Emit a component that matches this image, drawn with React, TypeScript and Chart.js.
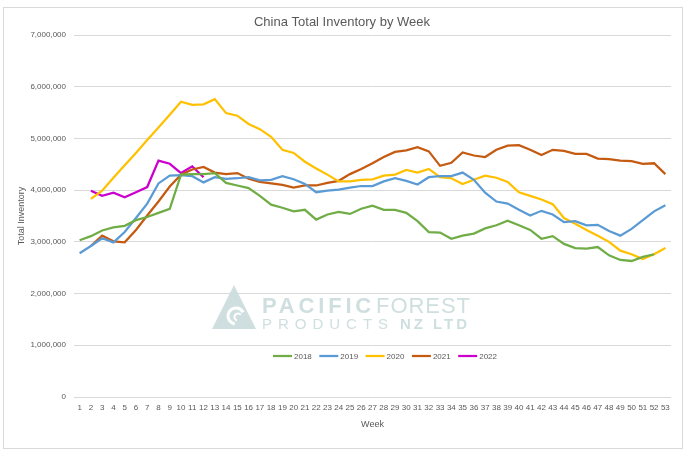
import React, { useEffect, useRef } from "react";
import { Chart, registerables } from "chart.js";

Chart.register(...registerables);

const weeks = [
  "1", "2", "3", "4", "5", "6", "7", "8", "9", "10",
  "11", "12", "13", "14", "15", "16", "17", "18", "19", "20",
  "21", "22", "23", "24", "25", "26", "27", "28", "29", "30",
  "31", "32", "33", "34", "35", "36", "37", "38", "39", "40",
  "41", "42", "43", "44", "45", "46", "47", "48", "49", "50",
  "51", "52", "53",
];

const seriesNames = ["2018", "2019", "2020", "2021", "2022"];

const inv2018 = [
  3030000, 3110000, 3220000, 3280000, 3310000, 3420000, 3480000, 3560000, 3640000, 4300000,
  4310000, 4310000, 4330000, 4140000, 4090000, 4040000, 3890000, 3720000, 3660000, 3590000,
  3620000, 3430000, 3530000, 3580000, 3540000, 3640000, 3700000, 3620000, 3620000, 3560000,
  3400000, 3190000, 3180000, 3060000, 3120000, 3160000, 3260000, 3320000, 3410000, 3320000,
  3230000, 3060000, 3110000, 2960000, 2880000, 2870000, 2900000, 2740000, 2650000, 2630000,
  2710000, 2760000, null,
];

const inv2019 = [
  2780000, 2920000, 3070000, 2990000, 3190000, 3460000, 3740000, 4130000, 4280000, 4290000,
  4270000, 4150000, 4250000, 4220000, 4230000, 4250000, 4190000, 4200000, 4270000, 4210000,
  4120000, 3960000, 3990000, 4010000, 4050000, 4080000, 4080000, 4170000, 4230000, 4180000,
  4110000, 4250000, 4270000, 4270000, 4340000, 4200000, 3950000, 3780000, 3740000, 3620000,
  3510000, 3600000, 3530000, 3380000, 3400000, 3320000, 3330000, 3210000, 3120000, 3250000,
  3420000, 3590000, 3710000,
];

const inv2020 = [
  null, 3830000, 3990000, 4240000, 4480000, 4720000, 4970000, 5210000, 5460000, 5710000,
  5650000, 5660000, 5760000, 5490000, 5440000, 5280000, 5180000, 5030000, 4780000, 4720000,
  4550000, 4420000, 4300000, 4170000, 4170000, 4200000, 4210000, 4280000, 4300000, 4390000,
  4340000, 4410000, 4250000, 4230000, 4120000, 4200000, 4280000, 4240000, 4160000, 3960000,
  3890000, 3820000, 3730000, 3460000, 3350000, 3230000, 3120000, 3000000, 2830000, 2760000,
  2670000, 2760000, 2880000,
];

const inv2021 = [
  null, 2920000, 3120000, 3010000, 2990000, 3230000, 3510000, 3780000, 4070000, 4300000,
  4400000, 4450000, 4340000, 4310000, 4330000, 4220000, 4160000, 4130000, 4100000, 4050000,
  4090000, 4090000, 4140000, 4180000, 4310000, 4410000, 4520000, 4640000, 4740000, 4770000,
  4830000, 4750000, 4470000, 4530000, 4730000, 4670000, 4640000, 4780000, 4860000, 4870000,
  4780000, 4680000, 4780000, 4760000, 4700000, 4700000, 4610000, 4600000, 4570000, 4560000,
  4510000, 4520000, 4310000,
];

const inv2022 = [
  null, 3990000, 3890000, 3950000, 3860000, 3960000, 4060000, 4570000, 4510000, 4330000,
  4460000, 4250000, null, null, null, null, null, null, null, null,
  null, null, null, null, null, null, null, null, null, null,
  null, null, null, null, null, null, null, null, null, null,
  null, null, null, null, null, null, null, null, null, null,
  null, null, null,
];

const yMin = 0;
const yMax = 7000000;
const yStep = 1000000;

const chartTitle = "China Total Inventory by Week";
const yTitle = "Total Inventory";
const xTitle = "Week";

const lineColors = ["#70AD47", "#5B9BD5", "#FFC000", "#C55A11", "#CC00CC"];
const FONT = "'Liberation Sans', Arial, sans-serif";
const TEXT = "#595959";

export default function App() {
  const ref = useRef<HTMLCanvasElement | null>(null);

  useEffect(() => {
    const canvas = ref.current;
    if (!canvas) return;
    const allSeries = [inv2018, inv2019, inv2020, inv2021, inv2022];

    const framePlugin = {
      id: "frame",
      beforeDraw(chart: any) {
        const ctx = chart.ctx;
        ctx.save();
        ctx.fillStyle = "#ffffff";
        ctx.fillRect(0, 0, chart.width, chart.height);
        ctx.strokeStyle = "#d9d9d9";
        ctx.lineWidth = 1;
        ctx.strokeRect(3.5, 7.5, 679, 441);
        ctx.fillStyle = TEXT;
        ctx.font = `13px ${FONT}`;
        ctx.textAlign = "center";
        ctx.textBaseline = "middle";
        ctx.fillText(chartTitle, 342, 22);
        ctx.restore();
      },
    };

    const fitText = (ctx: any, text: string, x: number, y: number, width: number) => {
      ctx.letterSpacing = "0px";
      const w = ctx.measureText(text).width;
      const sp = (width - w) / text.length;
      ctx.letterSpacing = `${sp}px`;
      ctx.fillText(text, x, y);
      ctx.letterSpacing = "0px";
    };

    const watermarkPlugin = {
      id: "watermark",
      beforeDatasetsDraw(chart: any) {
        const ctx = chart.ctx;
        ctx.save();
        ctx.fillStyle = "#cfdfdf";
        ctx.beginPath();
        ctx.moveTo(234, 285);
        ctx.lineTo(256, 329);
        ctx.lineTo(212, 329);
        ctx.closePath();
        ctx.fill();
        ctx.strokeStyle = "#ffffff";
        ctx.lineWidth = 3;
        ctx.beginPath();
        ctx.arc(236, 316, 8, Math.PI * 0.55, Math.PI * 1.85);
        ctx.stroke();
        ctx.lineWidth = 2;
        ctx.beginPath();
        ctx.arc(238, 317, 3.5, Math.PI * 0.6, Math.PI * 1.8);
        ctx.stroke();
        ctx.textAlign = "left";
        ctx.textBaseline = "alphabetic";
        ctx.font = `bold 22px ${FONT}`;
        fitText(ctx, "PACIFIC", 262, 313, 113);
        ctx.font = `22px ${FONT}`;
        fitText(ctx, "FOREST", 376, 313, 95);
        ctx.font = `15px ${FONT}`;
        fitText(ctx, "PRODUCTS", 262, 329, 132);
        ctx.font = `bold 15px ${FONT}`;
        fitText(ctx, "NZ LTD", 400, 329, 70);
        ctx.restore();
      },
    };

    const legendPlugin = {
      id: "customLegend",
      afterDraw(chart: any) {
        const ctx = chart.ctx;
        const ds = chart.data.datasets;
        ctx.save();
        ctx.font = `8px ${FONT}`;
        ctx.textBaseline = "middle";
        ctx.textAlign = "left";
        const lineLen = 19;
        const gap1 = 2;
        const gap2 = 7.5;
        const widths = ds.map((d: any) => ctx.measureText(d.label).width);
        const total = widths.reduce((a: number, w: number) => a + lineLen + gap1 + w, 0) + gap2 * (ds.length - 1);
        let x = 385 - total / 2;
        const y = chart.chartArea.bottom - 41;
        ds.forEach((d: any, i: number) => {
          ctx.strokeStyle = d.borderColor;
          ctx.lineWidth = 2.25;
          ctx.beginPath();
          ctx.moveTo(x, y);
          ctx.lineTo(x + lineLen, y);
          ctx.stroke();
          ctx.fillStyle = TEXT;
          ctx.fillText(d.label, x + lineLen + gap1, y + 0.5);
          x += lineLen + gap1 + widths[i] + gap2;
        });
        ctx.restore();
      },
    };

    const chart = new Chart(canvas, {
      type: "line",
      data: {
        labels: weeks,
        datasets: seriesNames.map((name, i) => ({
          label: name,
          data: allSeries[i],
          borderColor: lineColors[i],
          backgroundColor: lineColors[i],
          borderWidth: 2.25,
          pointRadius: 0,
          tension: 0,
          fill: false,
        })),
      },
      options: {
        responsive: false,
        animation: false,
        devicePixelRatio: 1,
        layout: { padding: { top: 35, right: 18, left: 0, bottom: 0 } },
        plugins: {
          legend: { display: false },
          title: { display: false },
          tooltip: { enabled: false },
        },
        scales: {
          x: {
            type: "category",
            offset: true,
            grid: { display: false, drawTicks: false },
            border: { display: false },
            ticks: {
              autoSkip: false,
              maxRotation: 0,
              minRotation: 0,
              color: TEXT,
              font: { size: 8, family: FONT },
              padding: 6,
            },
            title: {
              display: true,
              text: xTitle,
              color: TEXT,
              font: { size: 9, family: FONT },
              padding: { top: 0, bottom: 21.6 },
            },
            afterFit(s: any) {
              s.height = 55;
            },
          },
          y: {
            min: yMin,
            max: yMax,
            grid: { color: "#d9d9d9", drawTicks: false, lineWidth: 1 },
            border: { display: false },
            ticks: {
              stepSize: yStep,
              color: TEXT,
              font: { size: 8, family: FONT },
              padding: 8,
              callback: (v: any) => Number(v).toLocaleString("en-US"),
            },
            title: {
              display: true,
              text: yTitle,
              color: TEXT,
              font: { size: 9, family: FONT },
              padding: { top: 16.6, bottom: 0 },
            },
            afterFit(s: any) {
              s.width = 74;
            },
          },
        },
      } as any,
      plugins: [framePlugin, watermarkPlugin, legendPlugin],
    });

    return () => chart.destroy();
  }, []);

  return (
    <div style={{ position: "absolute", left: 0, top: 0, width: 689, height: 452, background: "#fff" }}>
      <canvas ref={ref} width={689} height={452} style={{ display: "block" }} />
    </div>
  );
}
